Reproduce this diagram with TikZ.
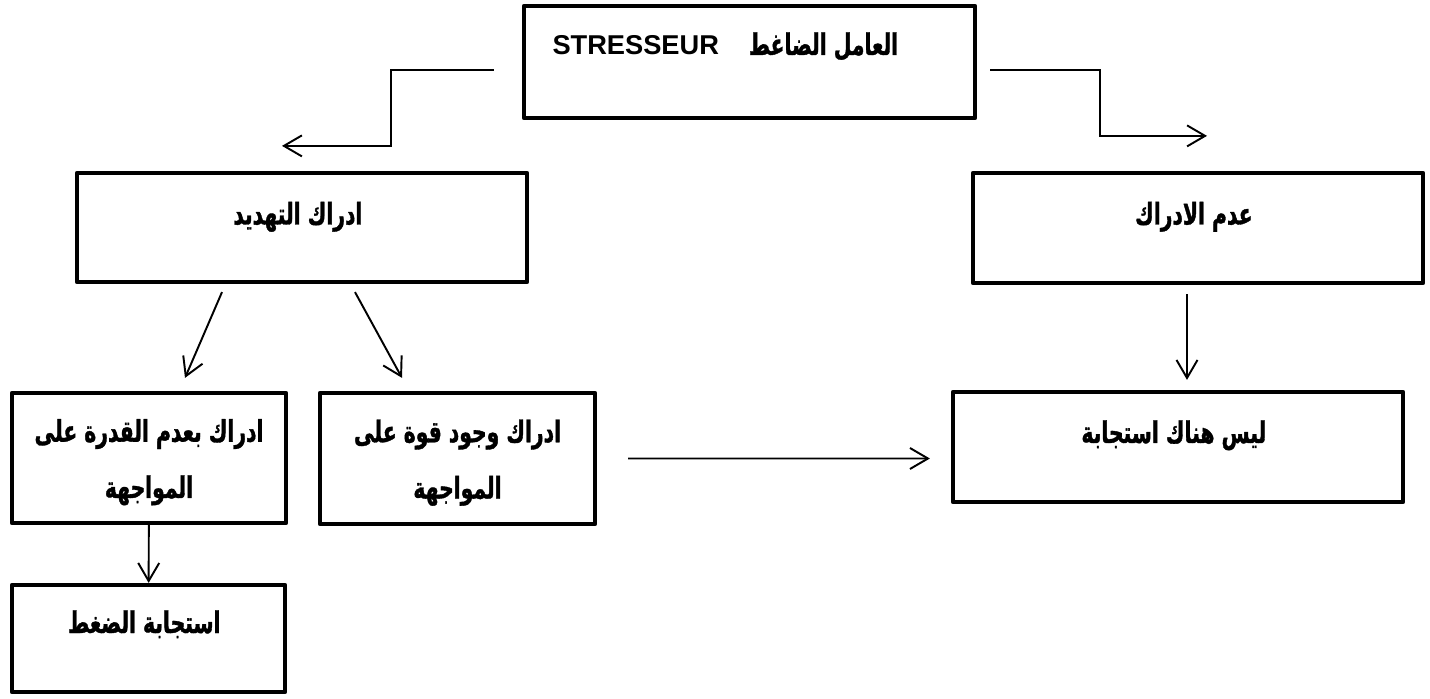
\documentclass[tikz,border=0pt]{standalone}
\usepackage{fontspec}
\setmainfont{Liberation Sans}
\newfontfamily\arabicfont[Script=Arabic, FakeStretch=0.68, FakeBold=1.2]{DejaVu Sans}
\TeXXeTstate=1
\usepackage{tikz}
\usetikzlibrary{
    arrows.meta,
    positioning,
    calc
}
\newcommand{\artext}[1]{{\arabicfont\beginR #1\endR}}
\tikzstyle{stage} = [
    rectangle,
    draw=black,
    line width=2.4pt,
    line join=round,
    align=center,
    font=\fontsize{17}{20}\selectfont\bfseries
]
\tikzstyle{arrow} = [
    -{Straight Barb[length=0.36cm, width=0.42cm]},
    line width=1.1pt,
    draw=black
]

\begin{document}
\begin{tikzpicture}
    \useasboundingbox (0,0) rectangle (28.6,-13.98);

    % Stressor
    \node[stage, minimum width=9.02cm, minimum height=2.24cm,
          text height=0.4cm, text depth=0.68cm] (stress) at (14.99,-1.24) {
        {\fontsize{15.5}{18}\selectfont STRESSEUR}\quad\artext{العامل الضاغط}\hspace*{0.8cm}
    };

    % Perceived threat
    \node[stage, minimum width=9.0cm, minimum height=2.18cm,
          text height=0.4cm, text depth=0.52cm] (threat) at (6.04,-4.55) {
        \artext{ادراك التهديد}
    };

    % No perception
    \node[stage, minimum width=9.0cm, minimum height=2.2cm,
          text height=0.4cm, text depth=0.54cm] (noper) at (23.96,-4.56) {
        \artext{عدم الادراك}
    };

    % Unable to cope
    \node[stage, minimum width=5.48cm, minimum height=2.6cm,
          text height=1.8cm, text depth=0.2cm] (unable) at (2.98,-9.16) {
        \artext{ادراك بعدم القدرة على}\\[12pt]
        \artext{المواجهة}
    };

    % Able to cope
    \node[stage, minimum width=5.5cm, minimum height=2.62cm,
          text height=1.8cm, text depth=0.2cm] (able) at (9.15,-9.17) {
        \artext{ادراك وجود قوة على}\\[12pt]
        \artext{المواجهة}
    };

    % No response
    \node[stage, minimum width=9.0cm, minimum height=2.2cm,
          text height=0.4cm, text depth=0.56cm] (noresp) at (23.56,-8.94) {
        \artext{ليس هناك استجابة}
    };

    % Stress response
    \node[stage, minimum width=5.46cm, minimum height=2.14cm,
          text height=0.4cm, text depth=0.62cm] (stressresp) at (2.97,-12.77) {
        \artext{استجابة الضغط}
    };

    % Arrows
    \draw[arrow] ([shift={(-0.56,-0.16)}]stress.west) -- ++(-2.06,0)
        |- ([shift={(-0.4,0.5)}]threat.north);
    \draw[arrow] ([shift={(0.26,-0.16)}]stress.east) -- ++(2.2,0)
        |- ([shift={(0.18,0.7)}]noper.north);
    \draw[arrow] ([shift={(-1.6,-0.16)}]threat.south) -- ([shift={(0.72,0.26)}]unable.north);
    \draw[arrow] ([shift={(1.06,-0.16)}]threat.south) -- ([shift={(-1.11,0.26)}]able.north);
    \draw[arrow] ([shift={(-0.22,-0.18)}]noper.south) -- ([shift={(0.18,0.2)}]noresp.north);
    \draw[arrow] ([xshift=0.62cm]able.east) -- ([shift={(-0.42,-0.23)}]noresp.west);
    \draw[arrow] (unable) -- (stressresp);
\end{tikzpicture}
\end{document}
